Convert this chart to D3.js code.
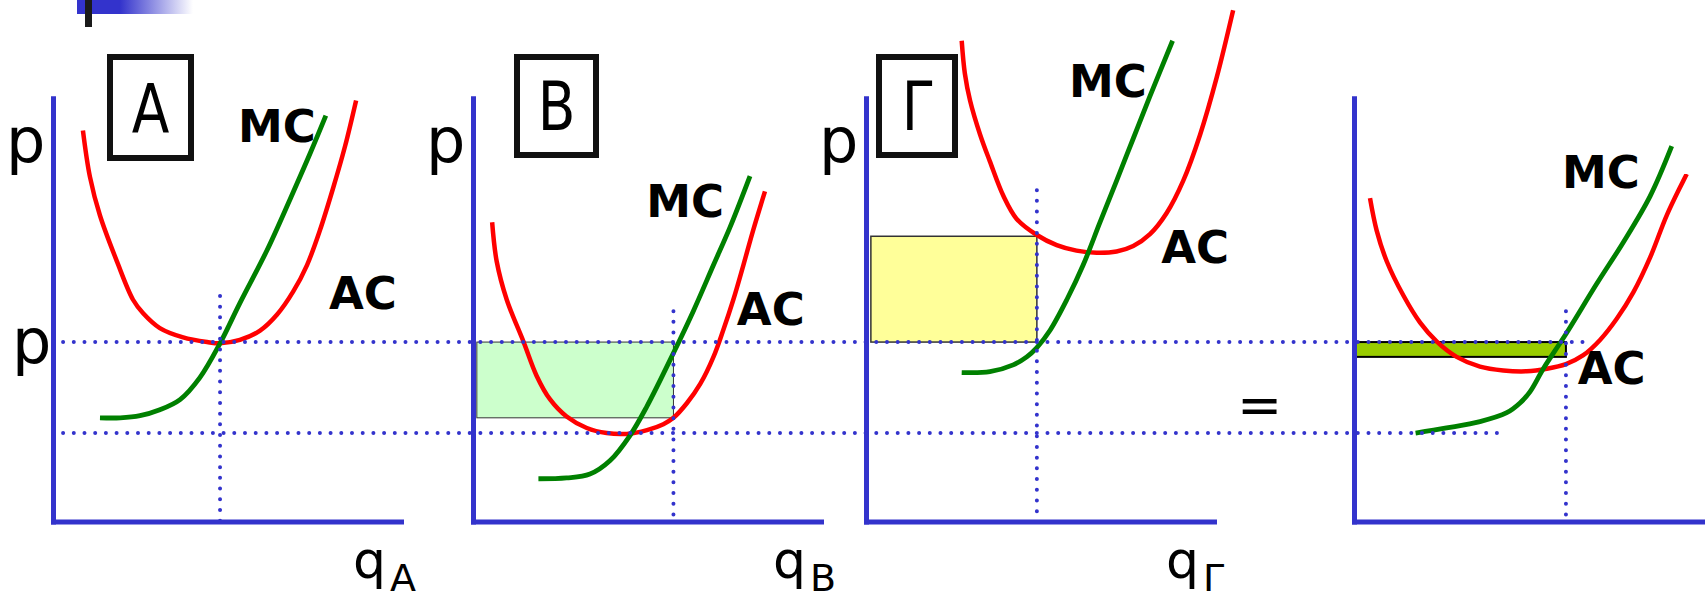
<!DOCTYPE html>
<html>
<head>
<meta charset="utf-8">
<script src="https://cdn.jsdelivr.net/npm/d3@7"></script>
<style>
  body { margin: 0; background: #fff; }
  svg { display: block; font-family: "DejaVu Sans", Verdana, sans-serif; }
</style>
</head>
<body>
<div id="chart"></div>
<script>
// panel names (boxed letters) and the subscripts on q
const panelNames = ["A", "B", "Γ", ""];
const qSubscripts = ["A", "B", "Γ", ""];

// the two price levels shared by all panels
const priceHigh = 4.24;
const priceLow = 2.09;

// average cost curves, [q, p]
const acA = [[0.86, 9.24], [1.06, 8.15], [1.35, 7.23], [1.84, 6.14], [2.30, 5.24], [2.59, 4.92], [3.07, 4.57],
  [3.74, 4.35], [4.43, 4.24], [4.80, 4.21], [5.37, 4.29], [5.95, 4.51], [6.44, 4.89], [6.90, 5.43],
  [7.30, 6.06], [7.67, 6.88], [8.05, 7.88], [8.39, 8.86], [8.71, 9.95]];
const acB = [[0.55, 7.07], [0.68, 6.15], [0.97, 5.24], [1.45, 4.25], [1.83, 3.44], [2.21, 2.89], [2.69, 2.48],
  [3.27, 2.21], [3.84, 2.09], [4.42, 2.07], [5.00, 2.16], [5.47, 2.30], [5.76, 2.45], [6.15, 2.80],
  [6.53, 3.25], [6.91, 3.89], [7.19, 4.52], [7.48, 5.24], [7.77, 6.06], [8.05, 6.88], [8.39, 7.80]];
const acG = [[2.75, 11.36], [2.84, 10.59], [2.99, 9.95], [3.28, 9.14], [3.56, 8.51], [3.95, 7.69], [4.33, 7.15],
  [4.91, 6.77], [5.48, 6.53], [6.05, 6.40], [6.63, 6.35], [7.20, 6.38], [7.68, 6.51], [8.16, 6.79],
  [8.64, 7.29], [9.12, 8.06], [9.60, 9.14], [10.08, 10.50], [10.55, 12.08]];
const acSum = [[0.46, 7.64], [0.65, 6.88], [0.94, 6.15], [1.42, 5.34], [1.90, 4.70], [2.38, 4.25], [2.95, 3.89],
  [3.62, 3.66], [4.29, 3.57], [4.96, 3.55], [5.54, 3.61], [6.09, 3.72], [6.59, 3.93], [7.07, 4.29],
  [7.55, 4.79], [8.03, 5.42], [8.51, 6.24], [8.99, 7.24], [9.56, 8.21]];

// marginal cost curves, [q, p]
const mcA = [[1.35, 2.45], [1.93, 2.45], [2.50, 2.50], [3.07, 2.64], [3.65, 2.88], [4.22, 3.40], [4.80, 4.21],
  [5.37, 5.16], [6.15, 6.41], [6.81, 7.61], [7.39, 8.70], [7.84, 9.59]];
const mcB = [[1.88, 1.01], [2.69, 1.03], [3.36, 1.12], [3.94, 1.44], [4.51, 2.03], [4.99, 2.71], [5.76, 3.98],
  [6.33, 4.97], [6.91, 6.06], [7.39, 6.96], [7.96, 8.16]];
const mcG = [[2.75, 3.52], [3.56, 3.54], [4.23, 3.70], [4.62, 3.89], [4.91, 4.11], [5.29, 4.52], [5.77, 5.24],
  [6.24, 6.06], [6.72, 7.06], [7.20, 8.05], [7.68, 9.05], [8.16, 10.05], [8.81, 11.36]];
const mcSum = [[1.77, 2.09], [2.66, 2.21], [3.62, 2.36], [4.39, 2.57], [4.77, 2.80], [5.06, 3.07], [5.44, 3.61],
  [6.09, 4.43], [6.97, 5.61], [7.74, 6.60], [8.51, 7.69], [9.13, 8.87]];

// chosen output per panel and the extent of its dotted guide
const qStar = [4.80, 5.76, 4.91, 6.09];
const guideTop = [5.33, 4.97, 7.83, 4.97];
const guideBottom = [0, 0.16, 0.22, 0.16];

// profit / loss rectangles: [q0, q1, pTop, pBottom]
const areas = [null, [0.11, 5.76, 4.24, 2.45], [0.14, 4.91, 6.74, 4.24], [0, 6.09, 4.24, 3.89]];

// curve label anchors, [q, p]
const mcLabelAt = [[5.43, 8.97], [5.09, 7.20], [5.95, 10.03], [6.09, 7.88]];
const acLabelAt = [[7.96, 5.03], [7.61, 4.65], [8.51, 6.11], [6.46, 3.26]];

const acCurves = [acA, acB, acG, acSum];
const mcCurves = [mcA, mcB, mcG, mcSum];

// ---- layout ----
const W = 1707, H = 601;
const originX = [53, 473, 866, 1354];
const axisLen = 348;
const yBottom = 521.5, yTop = 98.3;
const boxes = [[107, 54, 87, 107], [514, 54, 85, 104], [876, 54, 82, 104]];
const letterBase = [133, 130, 130];
const areaFill = [null, "#ccffcc", "#ffff99", "#99cc00"];
const areaStroke = [null, "#333", "#333", "#000"];
const areaStrokeW = [0, 1, 1.5, 2];

const blue = "#3333cc";

const svg = d3.select("#chart")
  .append("svg")
  .attr("width", W)
  .attr("height", H);

// slide template residue in the top left corner
const grad = svg.append("defs").append("linearGradient")
  .attr("id", "fade").attr("x1", "0").attr("x2", "1");
grad.append("stop").attr("offset", "0.37").attr("stop-color", blue);
grad.append("stop").attr("offset", "1").attr("stop-color", "#fff");
svg.append("rect").attr("x", 77).attr("y", 0).attr("width", 116).attr("height", 14).attr("fill", "url(#fade)");
svg.append("rect").attr("x", 85).attr("y", 0).attr("width", 7).attr("height", 27).attr("fill", "#1a1a1a");

// scales
const y = d3.scaleLinear().domain([0, 10]).range([yBottom, yTop]);
const xs = originX.map(o => d3.scaleLinear().domain([0, 10]).range([o, o + axisLen]));

const line = d3.line().curve(d3.curveCatmullRom.alpha(0.5));

for (let i = 0; i < 4; i++) {
  const x = xs[i];
  const g = svg.append("g");

  // shaded area
  if (areas[i]) {
    const [q0, q1, pt, pb] = areas[i];
    g.append("rect")
      .attr("x", x(q0)).attr("y", y(pt))
      .attr("width", x(q1) - x(q0)).attr("height", y(pb) - y(pt))
      .attr("fill", areaFill[i])
      .attr("stroke", areaStroke[i])
      .attr("stroke-width", areaStrokeW[i]);
  }

  // AC and MC
  g.append("path")
    .attr("d", line(acCurves[i].map(d => [x(d[0]), y(d[1])])))
    .attr("fill", "none").attr("stroke", "#ff0000").attr("stroke-width", 4.5);
  g.append("path")
    .attr("d", line(mcCurves[i].map(d => [x(d[0]), y(d[1])])))
    .attr("fill", "none").attr("stroke", "#008000").attr("stroke-width", 4.8);

  // vertical dotted guide at q*
  g.append("line")
    .attr("x1", x(qStar[i])).attr("x2", x(qStar[i]))
    .attr("y1", y(guideTop[i])).attr("y2", y(guideBottom[i]))
    .attr("stroke", blue).attr("stroke-width", 4)
    .attr("stroke-linecap", "round").attr("stroke-dasharray", "0,10.7");

  // axes (no ticks, just the lines)
  g.append("g")
    .attr("transform", `translate(${x(0)},0)`)
    .call(d3.axisLeft(y).tickValues([]).tickSizeOuter(0))
    .select(".domain").attr("stroke", blue).attr("stroke-width", 5).attr("stroke-linecap", "square");
  g.append("g")
    .attr("transform", `translate(0,${y(0)})`)
    .call(d3.axisBottom(x).tickValues([]).tickSizeOuter(0))
    .select(".domain").attr("stroke", blue).attr("stroke-width", 5).attr("stroke-linecap", "square");

  // curve labels
  g.append("text")
    .attr("x", x(mcLabelAt[i][0]) - 4).attr("y", y(mcLabelAt[i][1]))
    .attr("font-size", 45).attr("font-weight", "bold").text("MC");
  g.append("text")
    .attr("x", x(acLabelAt[i][0]) - 1).attr("y", y(acLabelAt[i][1]))
    .attr("font-size", 45).attr("font-weight", "bold").text("AC");

  // axis titles
  if (i < 3) {
    g.append("text")
      .attr("x", x(0) - 47).attr("y", 162)
      .attr("font-size", 62).text("p");
    const qt = g.append("text")
      .attr("x", x(0) + 300).attr("y", 578)
      .attr("font-size", 52);
    qt.append("tspan").text("q");
    qt.append("tspan").attr("font-size", 38).attr("dy", 13).attr("dx", 4).text(qSubscripts[i]);

    // boxed panel letter
    const [bx, by, bw, bh] = boxes[i];
    g.append("rect")
      .attr("x", bx + 3).attr("y", by + 3)
      .attr("width", bw - 6).attr("height", bh - 6)
      .attr("fill", "none").attr("stroke", "#111").attr("stroke-width", 6);
    g.append("text")
      .attr("transform", `translate(${bx + bw / 2},${letterBase[i]}) scale(1,1.22)`)
      .attr("text-anchor", "middle")
      .attr("font-size", 55).text(panelNames[i]);
  }
}

// price label on panel A
svg.append("text")
  .attr("x", 12).attr("y", y(priceHigh) + 21)
  .attr("font-size", 62).text("p");

// the horizontal price lines running across the panels
svg.append("line")
  .attr("x1", xs[0](0.29)).attr("x2", xs[3](6.84))
  .attr("y1", y(priceHigh)).attr("y2", y(priceHigh))
  .attr("stroke", blue).attr("stroke-width", 4)
  .attr("stroke-linecap", "round").attr("stroke-dasharray", "0,10.7");
svg.append("line")
  .attr("x1", xs[0](0.29)).attr("x2", xs[3](4.4))
  .attr("y1", y(priceLow)).attr("y2", y(priceLow))
  .attr("stroke", blue).attr("stroke-width", 4)
  .attr("stroke-linecap", "round").attr("stroke-dasharray", "0,10.7");

// equals sign between the third panel and the sum
svg.append("text")
  .attr("x", 1237).attr("y", 423)
  .attr("font-size", 54).text("=");
</script>
</body>
</html>
